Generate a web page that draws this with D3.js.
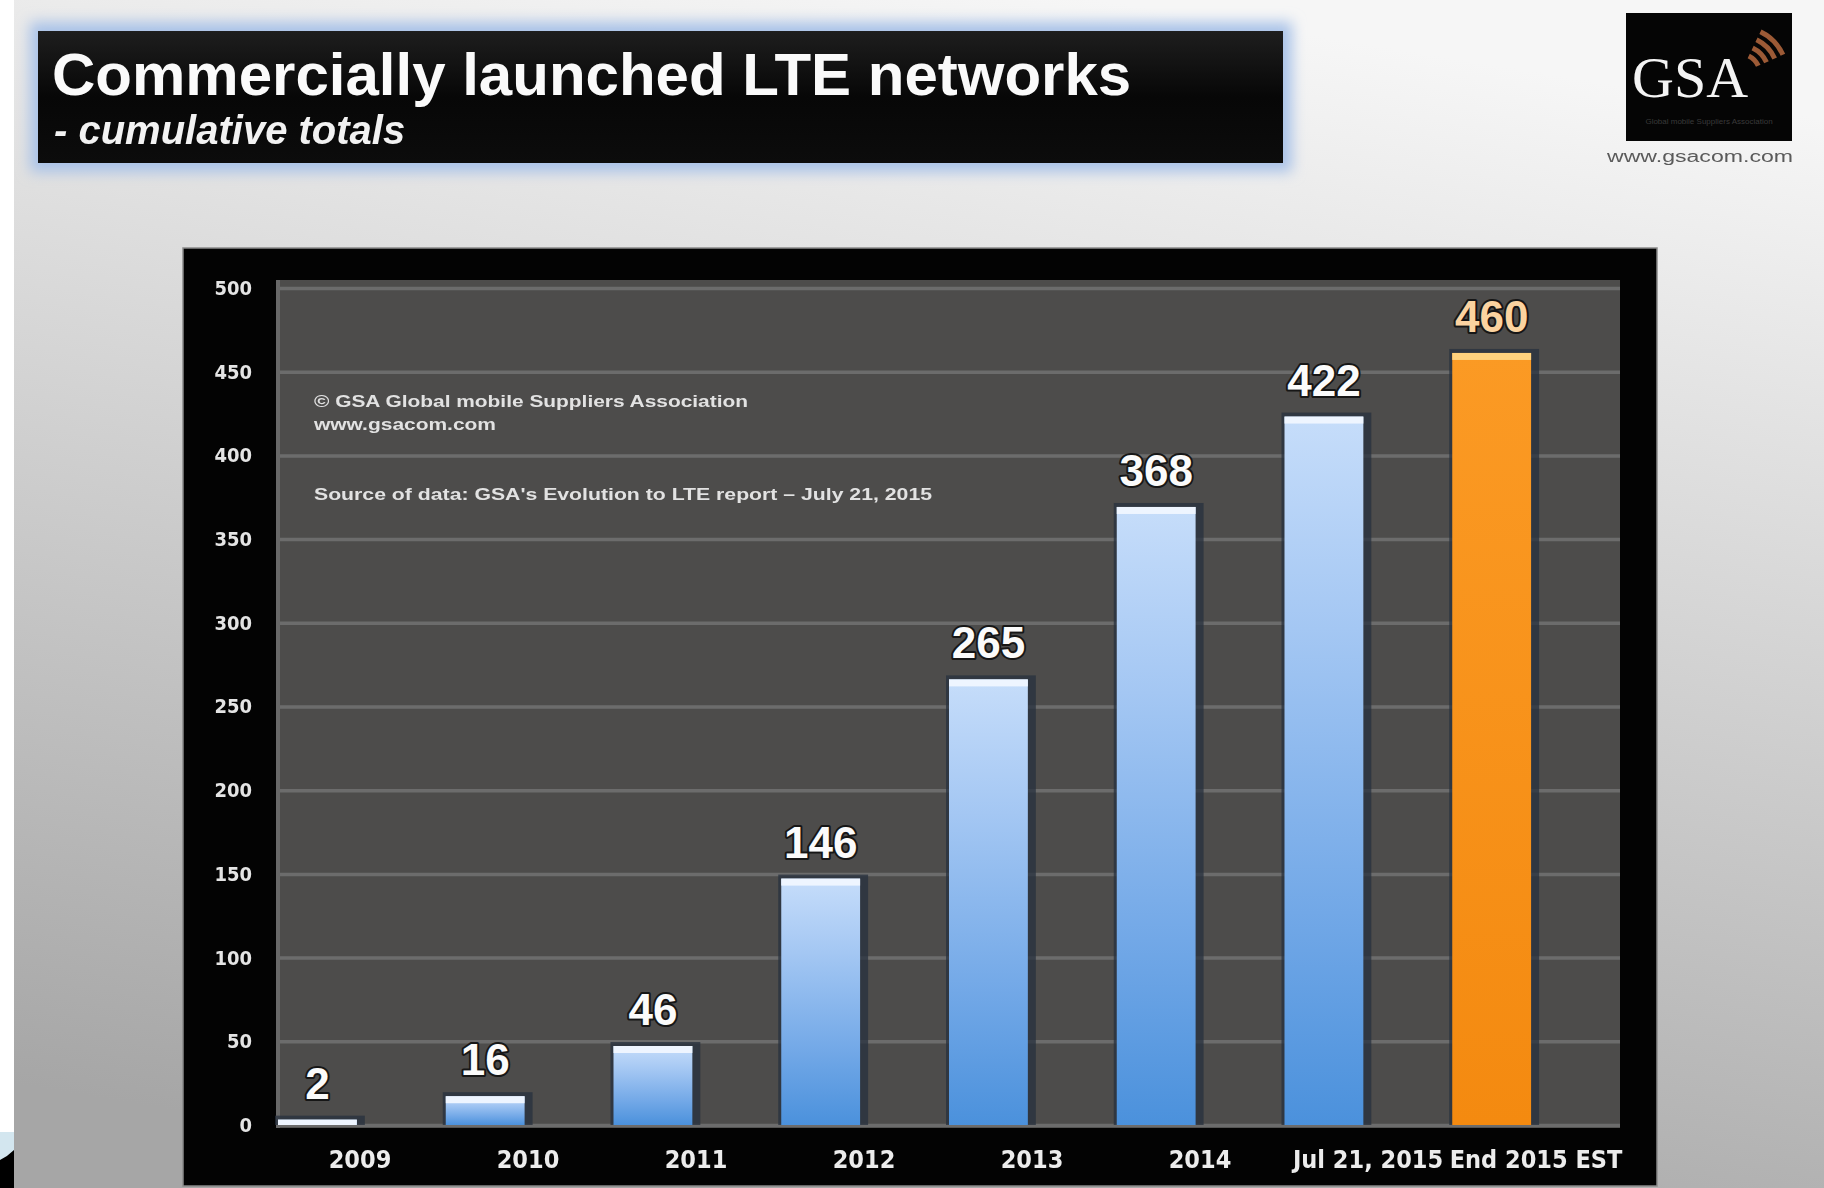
<!DOCTYPE html>
<html>
<head>
<meta charset="utf-8">
<script src="https://cdn.jsdelivr.net/npm/d3@7"></script>
<style>
  html, body { margin: 0; padding: 0; background: #fff; }
  svg { display: block; }
</style>
</head>
<body>
<div id="chart"></div>
<script>
// values
const categories = ["2009", "2010", "2011", "2012", "2013", "2014", "Jul 21, 2015", "End 2015 EST"];
const networks = [2, 16, 46, 146, 265, 368, 422, 460];
const yTicks = [0, 50, 100, 150, 200, 250, 300, 350, 400, 450, 500];
const estimate = "End 2015 EST";

const titleText = "Commercially launched LTE networks";
const subtitleText = "- cumulative totals";
const notes = [
  "© GSA Global mobile Suppliers Association",
  "www.gsacom.com",
  "Source of data: GSA's Evolution to LTE report – July 21, 2015"
];

(function chart() {
  let width = 1824,
      height = 1188,
      plot = ({ left: 276, right: 1620, top: 280, bottom: 1128 }),
      plotWidth = plot.right - plot.left;

  const narrow = "'Liberation Sans Narrow','DejaVu Sans Condensed','Liberation Sans',Arial,sans-serif";
  const sans = "'Liberation Sans',Arial,Helvetica,sans-serif";

  const svg = d3.select("#chart")
    .append("svg")
    .attr("width", width)
    .attr("height", height)
    .attr("viewBox", [0, 0, width, height]);

  const defs = svg.append("defs");

  let bg = defs.append("linearGradient").attr("id", "bg")
    .attr("x1", 0.6).attr("y1", 0).attr("x2", 0.35).attr("y2", 1);
  bg.append("stop").attr("offset", 0).attr("stop-color", "#f6f6f6");
  bg.append("stop").attr("offset", 0.4).attr("stop-color", "#d6d6d6");
  bg.append("stop").attr("offset", 1).attr("stop-color", "#a6a6a6");

  let blue = defs.append("linearGradient").attr("id", "blueBar")
    .attr("x1", 0).attr("y1", 0).attr("x2", 0).attr("y2", 1);
  blue.append("stop").attr("offset", 0).attr("stop-color", "#c6ddfa");
  blue.append("stop").attr("offset", 0.3).attr("stop-color", "#a4c7f3");
  blue.append("stop").attr("offset", 0.7).attr("stop-color", "#72a8e7");
  blue.append("stop").attr("offset", 1).attr("stop-color", "#4b91dc");

  let orange = defs.append("linearGradient").attr("id", "orangeBar")
    .attr("x1", 0).attr("y1", 0).attr("x2", 0).attr("y2", 1);
  orange.append("stop").attr("offset", 0).attr("stop-color", "#fb9a24");
  orange.append("stop").attr("offset", 1).attr("stop-color", "#f48a10");

  let titleGrad = defs.append("linearGradient").attr("id", "titleGrad")
    .attr("x1", 0).attr("y1", 0).attr("x2", 0).attr("y2", 1);
  titleGrad.append("stop").attr("offset", 0).attr("stop-color", "#1e1e1e");
  titleGrad.append("stop").attr("offset", 0.5).attr("stop-color", "#070707");
  titleGrad.append("stop").attr("offset", 1).attr("stop-color", "#0c0c0c");

  defs.append("filter").attr("id", "glow")
    .attr("x", -0.1).attr("y", -0.3).attr("width", 1.2).attr("height", 1.6)
    .append("feGaussianBlur").attr("stdDeviation", 7);

  defs.append("filter").attr("id", "soft")
    .append("feGaussianBlur").attr("stdDeviation", 0.6);

  // page background
  svg.append("rect").attr("width", width).attr("height", height).attr("fill", "#fff");
  svg.append("rect").attr("x", 14).attr("width", width - 14).attr("height", height).attr("fill", "url(#bg)");
  svg.append("rect").attr("x", 0).attr("y", 1132).attr("width", 14).attr("height", 56).attr("fill", "#d3e6ef");
  svg.append("path").attr("d", "M0,1160 Q8,1156 14,1150 L14,1188 L0,1188 Z").attr("fill", "#000");

  // title block
  svg.append("rect")
    .attr("x", 30).attr("y", 22).attr("width", 1262).attr("height", 150)
    .attr("fill", "#a9c2e8").attr("filter", "url(#glow)");
  svg.append("rect")
    .attr("x", 38).attr("y", 31).attr("width", 1245).attr("height", 132)
    .attr("fill", "url(#titleGrad)");

  svg.append("text")
    .attr("x", 52).attr("y", 95)
    .attr("font-family", sans).attr("font-weight", "bold").attr("font-size", 60)
    .attr("fill", "#fafafa").attr("filter", "url(#soft)")
    .text(titleText);

  svg.append("text")
    .attr("x", 54).attr("y", 144)
    .attr("font-family", sans).attr("font-weight", "bold").attr("font-style", "italic")
    .attr("font-size", 40).attr("fill", "#f2f2f2").attr("filter", "url(#soft)")
    .text(subtitleText);

  // GSA logo
  let logo = svg.append("g");
  logo.append("rect").attr("x", 1626).attr("y", 13).attr("width", 166).attr("height", 128).attr("fill", "#050505");
  logo.append("text")
    .attr("x", 1632).attr("y", 97)
    .attr("font-family", "'Liberation Serif','Times New Roman',serif").attr("font-size", 58)
    .attr("fill", "#f4f4f4").attr("filter", "url(#soft)")
    .text("GSA");
  let wave = d3.arc();
  for (let r of [20, 29, 38, 47]) {
    logo.append("path")
      .attr("transform", "translate(1740,74)")
      .attr("d", wave({ innerRadius: r - 2.5, outerRadius: r + 2.5, startAngle: 0.45, endAngle: 1.15 }))
      .attr("fill", "#9c5a36");
  }
  logo.append("text")
    .attr("x", 1709).attr("y", 124).attr("text-anchor", "middle")
    .attr("font-family", sans).attr("font-size", 8).attr("fill", "#3a3a3a")
    .text("Global mobile Suppliers Association");
  svg.append("text")
    .attr("x", 1700).attr("y", 162).attr("text-anchor", "middle")
    .attr("font-family", sans).attr("font-size", 16).attr("fill", "#5a5a5a")
    .attr("textLength", 186).attr("lengthAdjust", "spacingAndGlyphs")
    .attr("filter", "url(#soft)")
    .text("www.gsacom.com");

  // chart panel
  svg.append("rect")
    .attr("x", 183).attr("y", 248).attr("width", 1474).attr("height", 938)
    .attr("fill", "#030303").attr("stroke", "#8a8a8a").attr("stroke-width", 1.5);
  svg.append("rect")
    .attr("x", plot.left).attr("y", plot.top).attr("width", plotWidth).attr("height", plot.bottom - plot.top)
    .attr("fill", "#4d4c4b");

  let x = d3.scaleBand()
    .domain(categories)
    .range([plot.left, plot.right]);

  // bars sit left of their label slot, as in the slide
  let xBar = d3.scaleBand()
    .domain(categories)
    .range([plot.left + 2, plot.right])
    .paddingInner(0.53)
    .paddingOuter(0.265)
    .align(0);

  let y = d3.scaleLinear()
    .domain([0, 500])
    .range([1125, 288]);

  // grid + y labels
  let yAxis = svg.append("g")
    .attr("transform", `translate(${plot.left},0)`)
    .call(d3.axisLeft(y).tickValues(yTicks).tickSize(-plotWidth).tickPadding(24));
  yAxis.select(".domain").remove();
  yAxis.selectAll(".tick line")
    .attr("stroke", "#6c6c6c")
    .attr("stroke-width", 3.5);
  yAxis.selectAll(".tick text")
    .attr("fill", "#e4e4e4")
    .attr("font-family", narrow)
    .attr("font-weight", "bold")
    .attr("font-size", 20)
    .attr("filter", "url(#soft)");

  svg.append("line")
    .attr("x1", plot.left + 2).attr("x2", plot.left + 2)
    .attr("y1", plot.top).attr("y2", plot.bottom)
    .attr("stroke", "#686868").attr("stroke-width", 4);

  // source notes
  let noteG = svg.append("g")
    .attr("font-family", sans).attr("font-weight", "bold")
    .attr("fill", "#e2e2e2").attr("filter", "url(#soft)");
  noteG.append("text").attr("x", 314).attr("y", 407).attr("font-size", 16)
    .attr("textLength", 434).attr("lengthAdjust", "spacingAndGlyphs").text(notes[0]);
  noteG.append("text").attr("x", 314).attr("y", 430).attr("font-size", 16)
    .attr("textLength", 182).attr("lengthAdjust", "spacingAndGlyphs").text(notes[1]);
  noteG.append("text").attr("x", 314).attr("y", 500).attr("font-size", 16)
    .attr("textLength", 618).attr("lengthAdjust", "spacingAndGlyphs").text(notes[2]);

  // bars
  let data = categories.map((c, i) => ({ cat: c, value: networks[i] }));

  let bars = svg.append("g")
    .selectAll("g")
    .data(data)
    .join("g");

  // dark shadow round each bar
  bars.append("rect")
    .attr("x", d => xBar(d.cat) - 3)
    .attr("y", d => y(d.value) - 6)
    .attr("width", xBar.bandwidth() + 11)
    .attr("height", d => y(0) - y(d.value) + 6)
    .attr("fill", "#27303d")
    .attr("opacity", 0.75);

  bars.append("rect")
    .attr("x", d => xBar(d.cat))
    .attr("y", d => y(d.value) - 2)
    .attr("width", xBar.bandwidth())
    .attr("height", d => y(0) - y(d.value) + 2)
    .attr("fill", d => d.cat === estimate ? "url(#orangeBar)" : "url(#blueBar)");

  bars.append("rect")
    .attr("x", d => xBar(d.cat))
    .attr("y", d => y(d.value) - 2)
    .attr("width", xBar.bandwidth())
    .attr("height", d => Math.min(7, y(0) - y(d.value) + 2))
    .attr("fill", d => d.cat === estimate ? "#ffd27e" : "#eef5ff");

  bars.append("text")
    .attr("x", d => xBar(d.cat) + xBar.bandwidth() / 2)
    .attr("y", d => y(d.value) - 23)
    .attr("text-anchor", "middle")
    .attr("font-family", sans)
    .attr("font-weight", "bold")
    .attr("font-size", 44)
    .attr("fill", d => d.cat === estimate ? "#fbd3a0" : "#fbfbfb")
    .attr("stroke", "#161616")
    .attr("stroke-width", 4)
    .attr("stroke-linejoin", "round")
    .attr("paint-order", "stroke")
    .text(d => d.value);

  // x labels
  let xAxis = svg.append("g")
    .attr("transform", `translate(0,${y(0)})`)
    .call(d3.axisBottom(x).tickSize(0).tickPadding(25));
  xAxis.select(".domain").remove();
  xAxis.selectAll(".tick text")
    .attr("fill", "#ececec")
    .attr("font-family", narrow)
    .attr("font-weight", "bold")
    .attr("font-size", 25)
    .attr("filter", "url(#soft)");
})();
</script>
</body>
</html>
